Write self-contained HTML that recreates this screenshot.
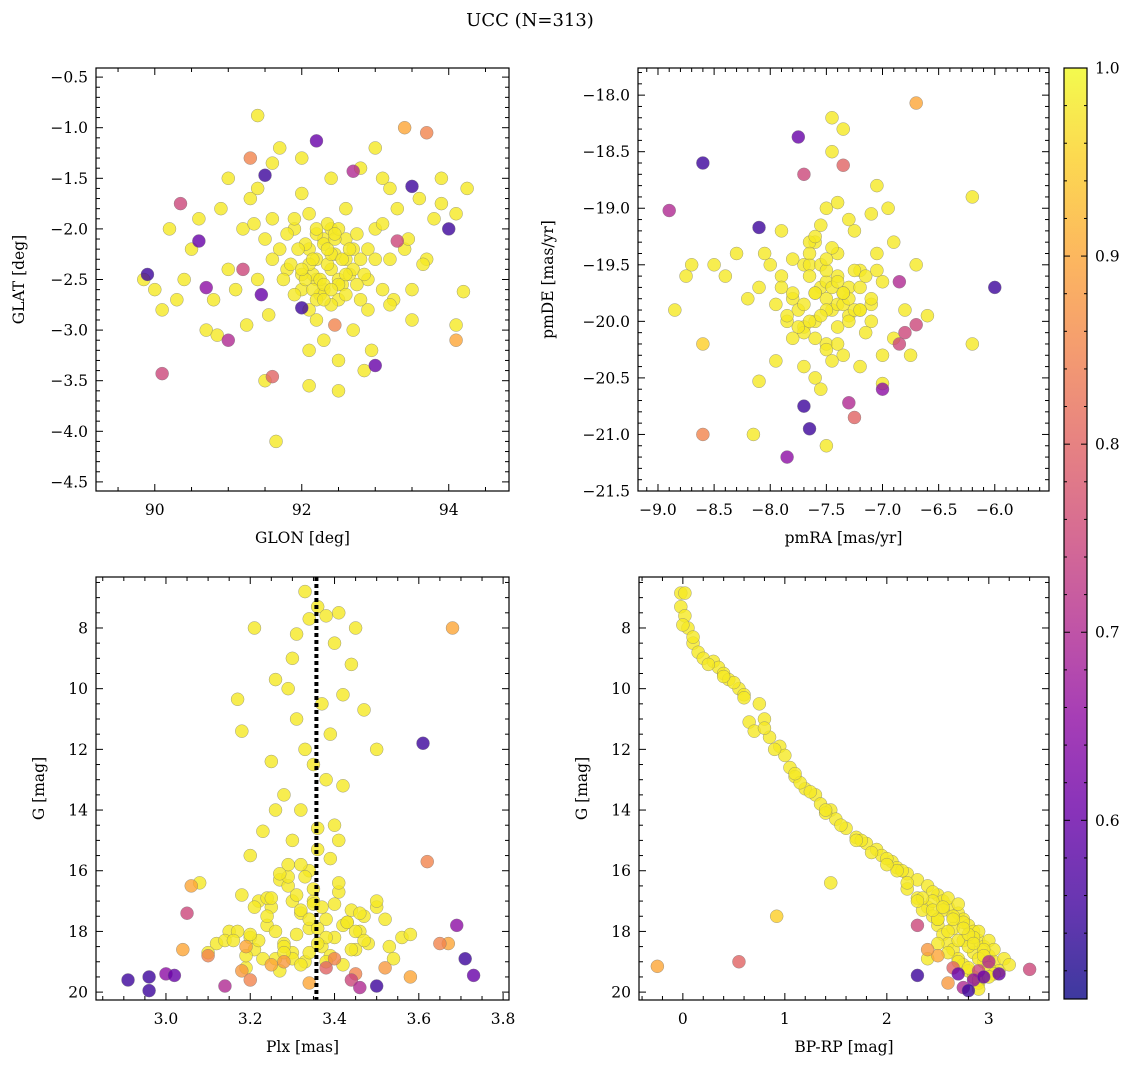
<!DOCTYPE html>
<html><head><meta charset="utf-8">
<style>
html,body{margin:0;padding:0;background:#fff;}
svg{display:block;font-family:"DejaVu Serif","Liberation Serif",serif;}
</style></head>
<body>
<svg id="fig" width="1136" height="1067" viewBox="0 0 1136 1067" xmlns="http://www.w3.org/2000/svg">
<defs>
<linearGradient id="plasma" x1="0" y1="1" x2="0" y2="0">
<stop offset="0" stop-color="#0d0887"/><stop offset="0.1" stop-color="#41049d"/><stop offset="0.2" stop-color="#6a00a8"/><stop offset="0.3" stop-color="#8f0da4"/><stop offset="0.4" stop-color="#b12a90"/><stop offset="0.5" stop-color="#cc4778"/><stop offset="0.6" stop-color="#e16462"/><stop offset="0.7" stop-color="#f2844b"/><stop offset="0.8" stop-color="#fca636"/><stop offset="0.9" stop-color="#fcce25"/><stop offset="1" stop-color="#f0f921"/>
</linearGradient>
</defs>
<text x="530" y="26" text-anchor="middle" font-size="18">UCC (N=313)</text>
</svg>
<script>
// ---------- Panel 1: GLON / GLAT ----------
const p1Lon=[91.4,91.3,91.5,93.4,93.7,92.2,92.7,93.5,89.9,89.85,90.1,90.35,91.0,91.6,91.65,92.0,93.0,94.0,94.1,94.1,94.2,94.25,93.9,92.45,93.3,92.1,92.5,92.95,91.45,91.5,90.7,91.2,90.6,
92.1,92.2,92.3,92.4,92.5,92.0,91.9,92.6,92.7,92.8,92.3,92.2,92.1,92.4,92.5,92.6,91.8,91.7,92.9,93.0,93.1,93.2,91.6,91.5,91.4,91.3,91.2,91.1,91.0,90.9,90.8,90.5,90.3,90.2,90.0,90.1,90.4,90.6,93.3,93.4,93.5,93.6,93.7,93.8,93.5,93.2,92.8,92.4,92.0,91.7,91.4,91.0,90.7,92.3,92.5,92.7,92.2,92.1,91.9,92.6,93.0,93.1,92.9,92.35,92.45,92.15,92.05,92.55,91.85,92.75,92.25,92.65,91.55,91.25,90.85,93.45,93.65,93.9,94.1,91.35,92.85,93.25,92.0,91.6,
92.2,92.3,92.4,92.1,92.0,92.5,92.6,92.35,92.25,92.15,92.45,92.55,92.05,91.95,92.7,92.8,91.9,92.3,92.2,92.4,92.1,92.5,92.0,92.6,92.3,92.2,92.4,91.8,92.9,93.0,92.75,92.65,92.15,92.35,92.45,91.75,93.1,93.2,91.6,92.85];
const p1Lat=[-0.88,-1.3,-1.47,-1.0,-1.05,-1.13,-1.43,-1.58,-2.45,-2.5,-3.43,-1.75,-3.1,-3.46,-4.1,-2.78,-3.35,-2.0,-3.1,-2.95,-2.62,-1.6,-1.5,-2.95,-2.12,-3.55,-3.6,-3.2,-2.65,-3.5,-2.58,-2.4,-2.12,
-2.2,-2.3,-2.1,-2.4,-2.5,-2.6,-2.0,-2.3,-2.2,-2.7,-2.6,-2.5,-2.8,-2.0,-2.7,-2.1,-2.4,-2.2,-2.5,-2.0,-2.6,-2.3,-1.9,-2.1,-2.5,-1.7,-2.0,-2.6,-2.4,-1.8,-2.7,-2.2,-2.7,-2.0,-2.6,-2.8,-2.5,-1.9,-1.8,-2.2,-2.6,-1.7,-2.3,-1.9,-2.9,-1.6,-1.4,-1.5,-1.3,-1.2,-1.6,-1.5,-3.0,-3.1,-3.3,-3.0,-2.9,-3.2,-1.9,-1.8,-1.2,-1.5,-2.8,-2.35,-2.25,-2.45,-2.15,-2.55,-2.35,-2.05,-2.65,-2.45,-2.85,-2.95,-3.05,-2.1,-2.35,-1.75,-1.85,-1.95,-3.4,-2.7,-1.65,-1.35,
-2.05,-2.15,-2.25,-2.35,-2.45,-2.55,-2.65,-1.95,-2.5,-2.6,-2.1,-2.3,-2.5,-2.2,-2.4,-2.3,-2.65,-2.55,-2.7,-2.75,-1.85,-2.0,-2.4,-2.45,-2.7,-2.0,-2.6,-2.05,-2.2,-2.3,-2.55,-2.2,-2.3,-2.2,-2.05,-2.5,-1.95,-2.75,-2.3,-2.45];
const p1Prob=[0.98,0.85,0.55,0.9,0.85,0.6,0.7,0.55,0.55,0.98,0.75,0.75,0.7,0.8,0.98,0.55,0.6,0.55,0.9,0.98,0.98,0.98,0.98,0.85,0.75,0.98,0.98,0.98,0.6,0.98,0.65,0.75,0.6];
const p1XTicks=[90,92,94];
const p1YTicks=[-0.5,-1.0,-1.5,-2.0,-2.5,-3.0,-3.5,-4.0,-4.5];

// ---------- Panel 2: pmRA / pmDE ----------
const p2Ra=[-8.6,-8.9,-8.85,-8.6,-8.6,-8.15,-7.85,-7.7,-7.65,-7.5,-6.0,-6.2,-6.2,-6.7,-7.75,-7.45,-8.1,-8.1,-7.7,-7.35,-7.3,-7.25,-7.0,-7.0,-6.8,-6.7,-6.85,-6.85,
-7.5,-7.4,-7.6,-7.3,-7.7,-7.2,-7.8,-7.5,-7.4,-7.6,-7.1,-7.9,-7.35,-7.45,-7.55,-7.65,-7.25,-7.15,-7.85,-7.05,-8.0,-8.2,-8.3,-8.4,-6.9,-6.8,-6.7,-7.0,-7.5,-7.3,-7.7,-7.6,-7.2,-7.4,-7.9,-7.1,-7.55,-7.45,-7.35,-7.65,-8.1,-8.5,-8.7,-8.75,-6.6,-6.75,-6.95,-7.05,-7.95,-8.05,-7.5,-7.4,-7.6,-7.2,-7.3,-7.8,-7.0,-7.1,-6.9,-7.7,
-7.5,-7.45,-7.55,-7.4,-7.6,-7.35,-7.65,-7.3,-7.7,-7.25,-7.75,-7.2,-7.8,-7.5,-7.45,-7.55,-7.4,-7.6,-7.35,-7.65,-7.3,-7.7,-7.15,-7.85,-7.5,-7.4,-7.6,-7.1,-7.9,-7.45,-7.55,-7.25,-7.75,-7.05,-7.95,-7.5,-7.35,-7.65,-7.2,-7.8];
const p2De=[-18.6,-19.02,-19.9,-20.2,-21.0,-21.0,-21.2,-20.75,-20.95,-21.1,-19.7,-18.9,-20.2,-18.07,-18.37,-18.2,-19.17,-20.53,-18.7,-18.62,-20.72,-20.85,-20.55,-20.6,-20.1,-20.03,-19.65,-20.2,
-19.8,-19.6,-20.0,-19.7,-19.5,-19.9,-19.8,-20.2,-19.4,-19.3,-20.0,-19.6,-20.3,-19.9,-19.7,-19.5,-19.2,-20.1,-20.0,-19.4,-19.5,-19.8,-19.4,-19.6,-19.3,-19.9,-19.5,-20.3,-19.0,-19.1,-20.4,-20.5,-20.4,-18.95,-19.2,-19.05,-20.6,-18.5,-18.3,-19.3,-19.7,-19.5,-19.5,-19.6,-19.95,-20.3,-19.0,-18.8,-20.35,-19.4,-19.65,-19.85,-19.75,-19.55,-19.95,-19.75,-19.65,-19.85,-20.15,-20.05,
-19.9,-19.7,-19.5,-20.05,-19.75,-19.85,-19.6,-19.8,-20.1,-19.55,-19.9,-19.7,-19.45,-20.25,-19.35,-19.95,-19.65,-20.15,-19.75,-19.4,-20.0,-19.85,-19.6,-19.95,-19.55,-20.2,-19.25,-19.8,-19.7,-20.35,-19.15,-19.9,-20.05,-19.55,-19.85,-19.45,-19.75,-20.0,-19.9,-20.15];
const p2Prob=[0.55,0.7,0.98,0.95,0.85,0.98,0.65,0.55,0.55,0.98,0.55,0.98,0.98,0.9,0.6,0.98,0.55,0.98,0.75,0.8,0.7,0.8,0.98,0.65,0.75,0.75,0.7,0.75];
const p2XTicks=[-9.0,-8.5,-8.0,-7.5,-7.0,-6.5,-6.0];
const p2YTicks=[-18.0,-18.5,-19.0,-19.5,-20.0,-20.5,-21.0,-21.5];

// ---------- Panel 3: Plx / G ----------
const p3Plx=[2.91,2.96,2.96,3.02,3.05,3.06,3.08,3.61,3.68,3.69,3.71,3.73,3.5,3.46,3.62,3.17,3.18,3.21,3.18,3.2,3.25,3.34,3.38,3.45,3.52,3.58,3.04,3.1,3.19,3.28,3.4,3.65,3.67,3.0,3.14,3.44,
3.33,3.36,3.34,3.31,3.38,3.41,3.45,3.40,3.30,3.26,3.29,3.31,3.33,3.35,3.28,3.25,3.37,3.42,3.39,3.44,3.47,3.32,3.30,3.23,3.20,3.38,3.50,3.36,3.34,3.27,3.18,3.22,3.25,3.29,3.32,3.35,3.38,3.41,3.44,3.47,3.15,3.20,3.24,3.28,3.31,3.34,3.37,3.40,3.43,3.46,3.50,3.53,3.56,3.12,3.17,3.21,3.26,3.30,3.33,3.39,3.42,3.45,3.48,3.52,3.58,3.10,3.14,3.19,3.23,3.27,3.36,3.32,3.24,3.41,3.29,3.35,
3.3,3.32,3.34,3.36,3.38,3.28,3.26,3.4,3.42,3.24,3.22,3.44,3.46,3.2,3.31,3.33,3.35,3.37,3.29,3.39,3.27,3.41,3.25,3.43,3.21,3.45,3.19,3.47,3.3,3.34,3.38,3.36,3.32,3.28,3.4,3.26,3.42,3.5,3.16,3.54];
const p3G=[19.6,19.95,19.5,19.45,17.4,16.5,16.4,11.8,8.0,17.8,18.9,19.45,19.8,19.85,15.7,10.35,11.4,8.0,19.3,19.6,19.1,19.7,19.2,19.4,19.2,19.5,18.6,18.8,18.5,19.0,18.9,18.4,18.4,19.4,19.8,19.6,
6.8,7.3,7.7,8.2,7.6,7.5,8.0,8.5,9.0,9.7,10.0,11.0,12.0,12.5,13.5,12.4,10.5,10.2,11.5,9.2,10.7,14.0,15.0,14.7,15.5,13.0,12.0,15.3,16.0,16.3,16.8,17.0,17.2,16.5,17.4,17.0,17.6,16.7,17.3,17.5,18.0,18.2,17.8,18.4,18.1,17.9,18.5,18.2,17.7,18.0,17.2,18.5,18.2,18.4,18.0,18.6,18.9,18.7,19.0,18.8,19.1,18.6,18.4,17.6,18.1,18.7,18.3,19.2,18.9,19.3,14.6,15.8,16.9,15.0,16.2,17.1,
17.0,17.3,17.6,17.9,18.2,18.5,18.0,17.1,17.8,17.5,18.3,18.6,17.4,18.1,16.8,16.2,16.6,17.2,15.8,15.6,16.1,16.4,16.9,17.7,17.2,18.0,18.8,18.3,18.9,18.7,19.0,18.4,19.1,18.7,14.5,14.0,13.2,17.0,18.3,18.9];
const p3Prob=[0.55,0.55,0.55,0.6,0.75,0.9,0.98,0.55,0.9,0.65,0.55,0.6,0.55,0.7,0.85,0.98,0.98,0.98,0.88,0.85,0.9,0.9,0.8,0.85,0.88,0.9,0.9,0.85,0.9,0.88,0.85,0.85,0.9,0.65,0.7,0.75];
const p3XTicks=[3.0,3.2,3.4,3.6,3.8];
const p3YTicks=[8,10,12,14,16,18,20];
const plxMedian=[3.357];

// ---------- Panel 4: BP-RP / G ----------
const p4Col=[-0.25,0.55,0.92,1.45,2.3,2.3,2.8,2.7,3.4,2.75,2.85,2.95,2.65,2.6,2.9,3.0,3.1,2.5,2.4,
-0.02,0.02,-0.02,0.02,0.05,0.1,0.15,0.2,0.3,0.35,0.4,0.45,0.55,0.6,0.75,0.8,0.65,0.7,0.95,1.0,1.05,1.1,1.2,1.3,1.35,1.45,1.5,1.6,1.7,1.8,1.9,1.95,2.05,2.1,2.2,2.3,2.4,2.5,2.55,2.6,2.7,2.75,2.8,2.85,2.9,2.95,3.0,3.05,3.1,2.4,2.45,2.5,2.55,2.6,2.65,2.7,2.75,2.8,2.85,2.9,2.2,2.3,2.35,2.6,2.7,2.9,3.0,3.15,2.45,1.85,1.55,1.25,0.9,0.5,2.65,2.75,2.85,2.95,3.2,0.25,0.85,1.15,1.4,1.75,2.0,2.15,2.5,2.8,3.05,
2.45,2.55,2.65,2.75,2.85,2.95,2.5,2.6,2.7,2.8,2.9,3.0,2.35,2.45,2.55,2.65,2.75,2.85,2.95,3.05,2.6,2.7,2.8,2.9,3.0,2.5,2.4,2.3,2.2,2.1,2.0,1.7,1.4,1.1,0.8,0.6,0.4,0.1,0.0,2.9];
const p4G=[19.15,19.0,17.5,16.4,17.8,19.45,19.95,19.4,19.25,19.85,19.6,19.5,19.2,19.7,19.3,19.0,19.4,18.8,18.6,
6.85,6.85,7.3,7.6,8.0,8.5,8.8,9.0,9.1,9.3,9.5,9.7,10.0,10.2,10.5,11.0,11.1,11.4,11.9,12.2,12.6,12.9,13.3,13.5,13.8,14.0,14.3,14.6,14.9,15.1,15.3,15.5,15.7,15.9,16.1,16.3,16.5,16.8,17.0,17.2,17.4,17.6,17.8,18.0,18.3,18.5,18.8,19.0,19.3,17.2,17.5,17.8,18.1,18.4,18.6,18.9,19.1,19.3,19.5,19.7,16.6,16.9,17.3,16.9,17.1,18.0,18.3,18.9,16.7,15.4,14.5,13.4,12.0,9.8,17.9,18.3,18.7,19.0,19.1,9.2,11.6,13.1,14.1,15.0,15.6,16.0,17.6,18.5,18.6,
17.0,17.3,17.5,17.7,18.2,18.6,17.6,18.0,18.3,18.1,18.9,19.2,16.9,17.3,17.2,17.6,17.9,18.4,18.8,19.4,18.7,19.0,19.2,19.6,19.5,18.4,18.9,17.0,16.4,16.0,15.8,15.0,14.0,12.8,11.3,10.3,9.6,8.3,7.9,19.9];
const p4Prob=[0.9,0.8,0.95,0.98,0.75,0.55,0.55,0.6,0.75,0.7,0.65,0.6,0.8,0.88,0.75,0.7,0.6,0.9,0.88];
const p4XTicks=[0,1,2,3];
const p4YTicks=[8,10,12,14,16,18,20];

// ---------- colorbar ----------
const cbTicks=[0.6,0.7,0.8,0.9,1.0];
const cbMin=0.505, cbMax=1.0;

const NS="http://www.w3.org/2000/svg";
const fig=document.getElementById('fig');
function mk(tag,attrs,parent){const e=document.createElementNS(NS,tag);for(const k in attrs)e.setAttribute(k,attrs[k]);(parent||fig).appendChild(e);return e;}
const stops=[[13,8,135],[65,4,157],[106,0,168],[143,13,164],[177,42,144],[204,71,120],[225,100,98],[242,132,75],[252,166,54],[252,206,37],[240,249,33]];
function plasma(p){let t=(p-cbMin)/(cbMax-cbMin);t=Math.max(0,Math.min(1,t))*10;const i=Math.min(9,Math.floor(t)),f=t-i;const a=stops[i],b=stops[i+1];return 'rgb('+a.map((v,k)=>Math.round(v+(b[k]-v)*f)).join(',')+')';}
function fmt(v,d){return v.toFixed(d).replace('-','\u2212');}

function panel(name,box,xd,yd,xs,ys,ps,xt,yt,xMinor,yMinor,xDec,yDec,xlab,ylab,ylabX){
  const g=mk('g',{});
  
  
  const sx=v=>box.x+(v-xd[0])/(xd[1]-xd[0])*box.w;
  const sy=v=>box.y+(v-yd[0])/(yd[1]-yd[0])*box.h;
  mk('rect',{x:box.x,y:box.y,width:box.w,height:box.h,fill:'#fff'},g);
  const idx=[];for(let i=0;i<Math.min(xs.length,ys.length);i++)idx.push(i);
  const pr=i=>(ps[i]!==undefined?ps[i]:0.98);
  idx.sort((a,b)=>pr(b)-pr(a));
  const pg=mk('g',{},g);
  
  
  idx.forEach(i=>{
    const c=mk('circle',{cx:sx(xs[i]),cy:sy(ys[i]),r:6.5,fill:plasma(pr(i)),'fill-opacity':0.8,stroke:'#777','stroke-width':0.5,'stroke-opacity':0.7},pg);
    
    
  });
  const lo=Math.min(xd[0],xd[1]),hi=Math.max(xd[0],xd[1]);
  for(let v=Math.ceil(lo/xMinor-1e-6)*xMinor;v<=hi+1e-9;v+=xMinor){const X=sx(v);const maj=xt.some(t=>Math.abs(t-v)<1e-6);const L=maj?7:4;
    mk('line',{x1:X,x2:X,y1:box.y+box.h,y2:box.y+box.h-L,stroke:'#000','stroke-width':1},g);
    mk('line',{x1:X,x2:X,y1:box.y,y2:box.y+L,stroke:'#000','stroke-width':1},g);}
  const ylo=Math.min(yd[0],yd[1]),yhi=Math.max(yd[0],yd[1]);
  for(let v=Math.ceil(ylo/yMinor-1e-6)*yMinor;v<=yhi+1e-9;v+=yMinor){const Y=sy(v);const maj=yt.some(t=>Math.abs(t-v)<1e-6);const L=maj?7:4;
    mk('line',{x1:box.x,x2:box.x+L,y1:Y,y2:Y,stroke:'#000','stroke-width':1},g);
    mk('line',{x1:box.x+box.w,x2:box.x+box.w-L,y1:Y,y2:Y,stroke:'#000','stroke-width':1},g);}
  xt.forEach(v=>{const t=mk('text',{x:sx(v),y:box.y+box.h+24,'text-anchor':'middle','font-size':15.5},g);t.textContent=fmt(v,xDec);
    });
  yt.forEach(v=>{const t=mk('text',{x:box.x-8,y:sy(v)+5.5,'text-anchor':'end','font-size':15.5},g);t.textContent=fmt(v,yDec);
    });
  mk('rect',{x:box.x,y:box.y,width:box.w,height:box.h,fill:'none',stroke:'#000','stroke-width':1.2},g);
  const xl=mk('text',{x:box.x+box.w/2,y:box.y+box.h+52,'text-anchor':'middle','font-size':15.5},g);xl.textContent=xlab;
  
  const cy=box.y+box.h/2;
  const yl=mk('text',{x:ylabX,y:cy,'text-anchor':'middle','font-size':15.5,transform:'rotate(-90 '+ylabX+' '+cy+')'},g);yl.textContent=ylab;
  
  return {sx,sy,g,box};
}

panel('panel-glon-glat',{x:96,y:68,w:413,h:423},[89.2,94.82],[-0.41,-4.59],p1Lon,p1Lat,p1Prob,p1XTicks,p1YTicks,0.5,0.1,0,1,'GLON [deg]','GLAT [deg]',24);
panel('panel-pm',{x:638,y:68,w:411,h:423},[-9.178,-5.517],[-17.76,-21.5],p2Ra,p2De,p2Prob,p2XTicks,p2YTicks,0.1,0.1,1,1,'pmRA [mas/yr]','pmDE [mas/yr]',553);
const P3=panel('panel-plx-g',{x:96,y:577,w:413,h:423},[2.834,3.814],[6.32,20.26],p3Plx,p3G,p3Prob,p3XTicks,p3YTicks,0.05,0.5,1,0,'Plx [mas]','G [mag]',44);
panel('panel-cmd',{x:639,y:577,w:410,h:423},[-0.43,3.59],[6.32,20.26],p4Col,p4G,p4Prob,p4XTicks,p4YTicks,0.2,0.5,0,0,'BP-RP [mag]','G [mag]',587);

plxMedian.forEach(v=>{
  const l=mk('line',{x1:P3.sx(v),x2:P3.sx(v),y1:577,y2:1000,stroke:'#000','stroke-width':4,'stroke-dasharray':'4,3'});
  
  
});

const cb={x:1064,y:68,w:23,h:931};
const cbg=mk('g',{});


mk('rect',{x:cb.x,y:cb.y,width:cb.w,height:cb.h,fill:'url(#plasma)','fill-opacity':0.8},cbg);
mk('rect',{x:cb.x,y:cb.y,width:cb.w,height:cb.h,fill:'none',stroke:'#000','stroke-width':1.2},cbg);
const cy=v=>cb.y+(cbMax-v)/(cbMax-cbMin)*cb.h;
for(let v=0.52;v<=1.0001;v+=0.02){const Y=cy(v);const maj=cbTicks.some(t=>Math.abs(t-v)<1e-6);
  mk('line',{x1:cb.x+cb.w,x2:cb.x+cb.w-(maj?6:3),y1:Y,y2:Y,stroke:'#000','stroke-width':1},cbg);
  mk('line',{x1:cb.x,x2:cb.x+(maj?6:3),y1:Y,y2:Y,stroke:'#000','stroke-width':1},cbg);}
cbTicks.forEach(v=>{const t=mk('text',{x:cb.x+cb.w+8,y:cy(v)+5.5,'font-size':15.5},cbg);t.textContent=v.toFixed(1);
  
  });
</script>
</body></html>
